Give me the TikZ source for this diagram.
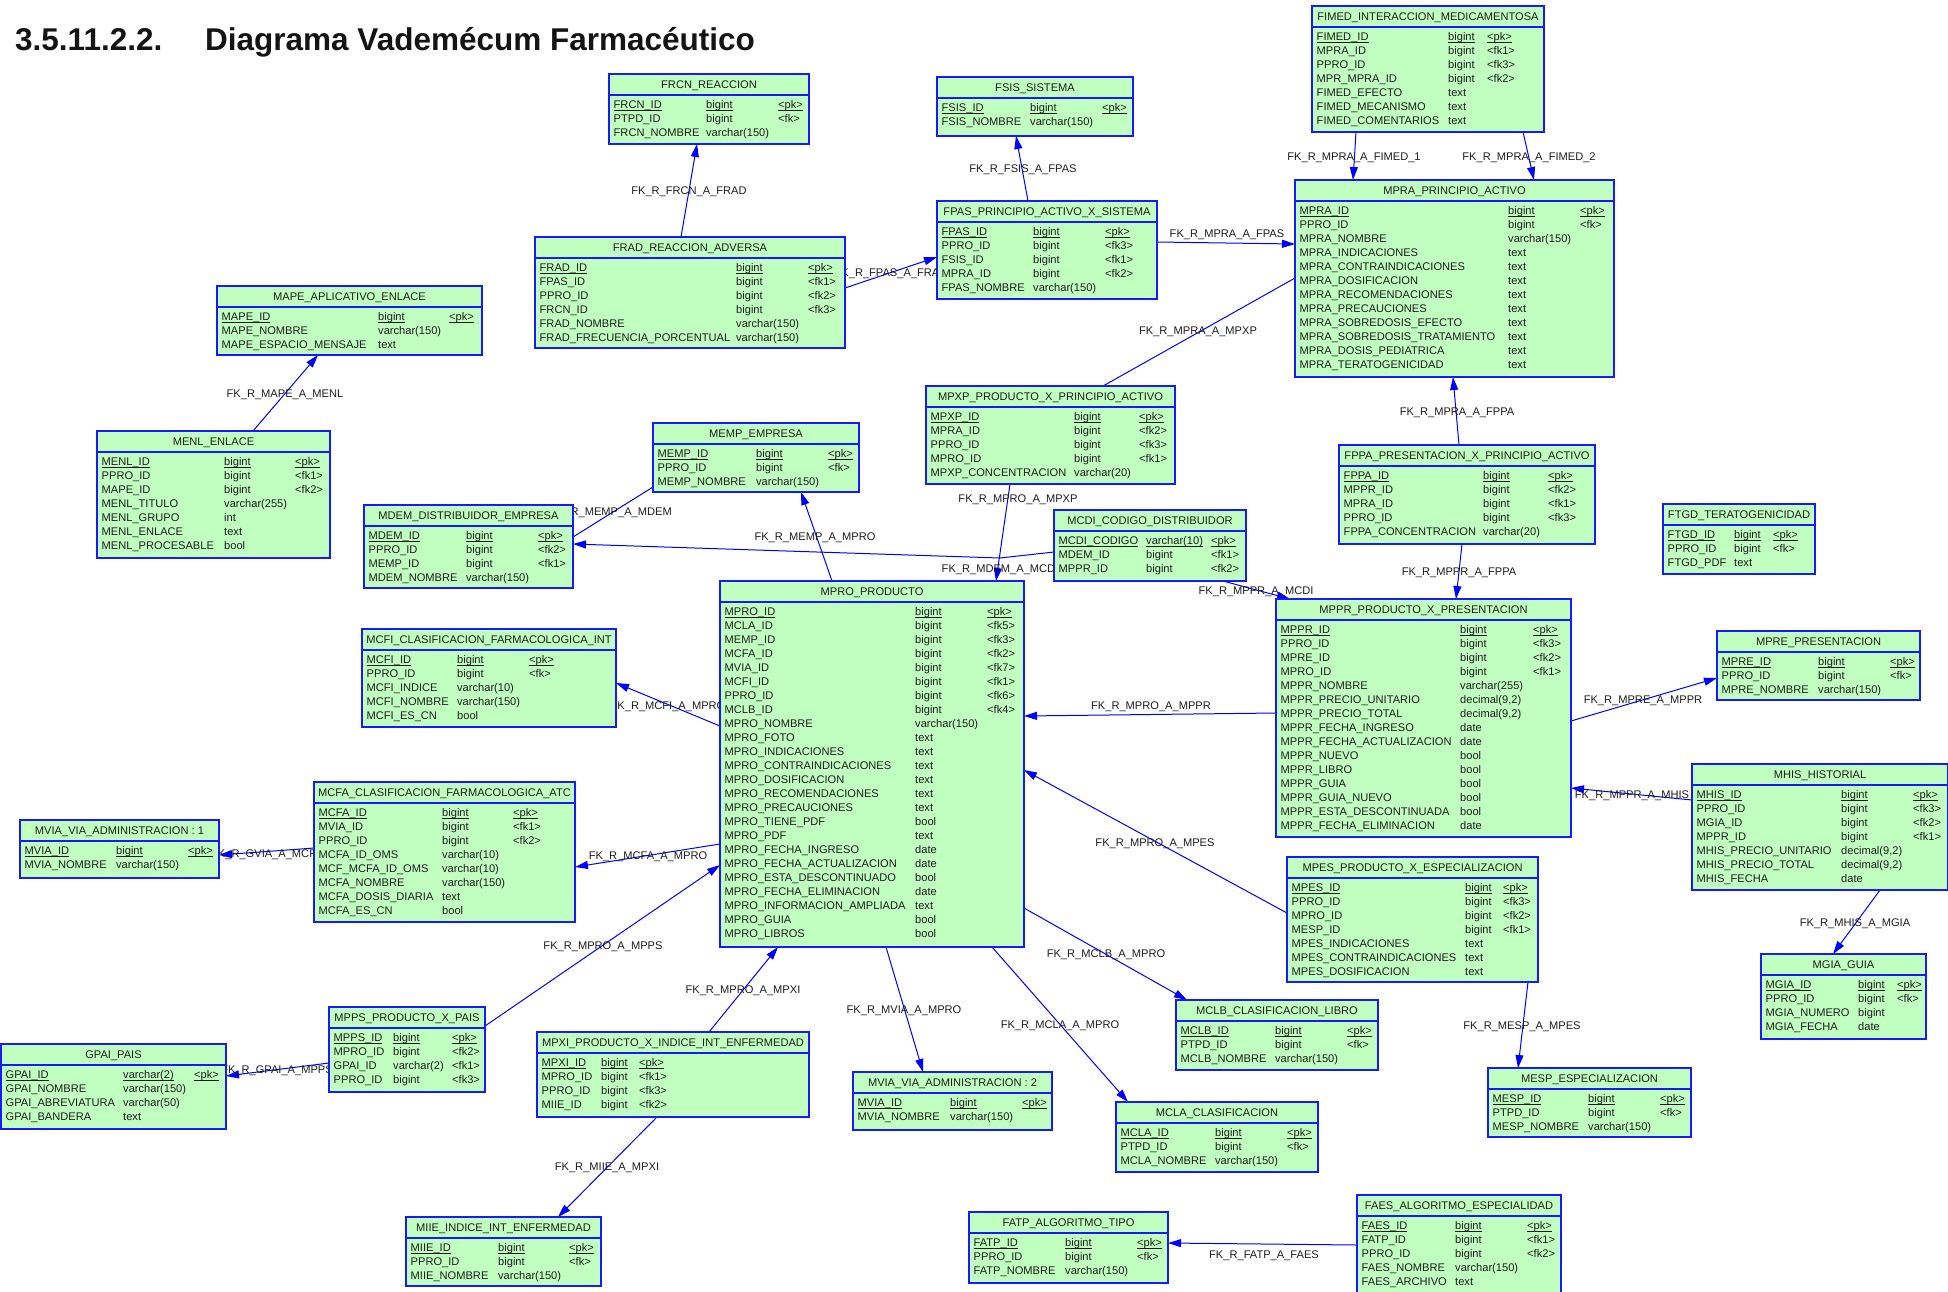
\documentclass[tikz,border=0pt]{standalone}
\usepackage{fontspec}
\setmainfont{Liberation Sans}
\usetikzlibrary{calc,arrows.meta}
\pgfdeclarelayer{background}
\pgfsetlayers{background,main}
\definecolor{entfill}{RGB}{192,255,192}
\definecolor{entdraw}{RGB}{25,25,255}
\definecolor{txt}{RGB}{28,28,28}
\newlength\colA \newlength\colB
\newsavebox\ulbox
\newcommand\ulx[1]{\sbox\ulbox{#1}\rlap{\rule[-1.6pt]{\wd\ulbox}{0.7pt}}\usebox\ulbox}
\newcommand\pk[3]{\makebox[\colA][l]{\ulx{#1}}\makebox[\colB][l]{\ulx{#2}}\ulx{#3}\\}
\newcommand\rw[3]{\makebox[\colA][l]{#1}\makebox[\colB][l]{#2}#3\\}
\tikzset{
 ent/.style={draw=entdraw, fill=entfill, line width=1.5pt, inner sep=0pt, outer sep=0pt},
 entline/.style={draw=entdraw, line width=1.2pt},
 hdr/.style={inner sep=0pt, text=txt, font=\fontsize{11.1}{14}\selectfont},
 body/.style={inner sep=0pt, text=txt, font=\fontsize{11.1}{14}\selectfont},
 fk/.style={draw=blue, line width=1pt, -{Triangle[length=13pt,width=8pt]}},
 fkn/.style={draw=blue, line width=1pt},
 lbl/.style={inner sep=0pt, text=txt, text height=8pt, text depth=0pt, font=\fontsize{11.1}{14}\selectfont},
 ttl/.style={inner sep=0pt, text={rgb,255:red,20;green,20;blue,20}, font=\fontsize{31.5}{36}\selectfont\bfseries},
}
\newcommand\entity[9]{%
  \node[ent, minimum width=#4pt, minimum height=#5pt, anchor=north west] (#1) at (#2,#3) {};
  \draw[entline] ($(#1.north west)+(0,21)$) -- ($(#1.north east)+(0,21)$);
  \node[hdr, anchor=base] (#1-t) at ($(#1.north)+(0,14.5)$) {#6};
  \setlength\colA{\dimexpr#7pt-4.5pt\relax}\setlength\colB{\dimexpr#8pt-#7pt\relax}%
  \node[body, anchor=north west] (#1-b) at ($(#1.north west)+(4.5,24.7)$) {\begin{tabular}{@{}l@{}}#9\end{tabular}};
}
\begin{document}
\catcode`\_=12
\begin{tikzpicture}[x=1pt,y=-1pt]
\useasboundingbox (0,0) rectangle (1948,1291);
\node[ttl, anchor=base west] (t1) at (15,50) {3.5.11.2.2.};
\node[ttl, anchor=base west] (t2) at (205,50) {Diagrama Vademécum Farmacéutico};

\entity{mape}{217}{286}{265}{69}{MAPE_APLICATIVO_ENLACE}{161}{232}{\pk{MAPE_ID}{bigint}{<pk>}\rw{MAPE_NOMBRE}{varchar(150)}{}\rw{MAPE_ESPACIO_MENSAJE}{text}{}}
\entity{menl}{97}{431}{233}{127}{MENL_ENLACE}{127}{198}{\pk{MENL_ID}{bigint}{<pk>}\rw{PPRO_ID}{bigint}{<fk1>}\rw{MAPE_ID}{bigint}{<fk2>}\rw{MENL_TITULO}{varchar(255)}{}\rw{MENL_GRUPO}{int}{}\rw{MENL_ENLACE}{text}{}\rw{MENL_PROCESABLE}{bool}{}}
\entity{frcn}{609}{74}{200}{70}{FRCN_REACCION}{97}{169}{\pk{FRCN_ID}{bigint}{<pk>}\rw{PTPD_ID}{bigint}{<fk>}\rw{FRCN_NOMBRE}{varchar(150)}{}}
\entity{frad}{535}{237}{310}{111}{FRAD_REACCION_ADVERSA}{201}{273}{\pk{FRAD_ID}{bigint}{<pk>}\rw{FPAS_ID}{bigint}{<fk1>}\rw{PPRO_ID}{bigint}{<fk2>}\rw{FRCN_ID}{bigint}{<fk3>}\rw{FRAD_NOMBRE}{varchar(150)}{}\rw{FRAD_FRECUENCIA_PORCENTUAL}{varchar(150)}{}}
\entity{fsis}{937}{77}{196}{59}{FSIS_SISTEMA}{93}{165}{\pk{FSIS_ID}{bigint}{<pk>}\rw{FSIS_NOMBRE}{varchar(150)}{}}
\entity{fpas}{937}{201}{220}{98}{FPAS_PRINCIPIO_ACTIVO_X_SISTEMA}{96}{168}{\pk{FPAS_ID}{bigint}{<pk>}\rw{PPRO_ID}{bigint}{<fk3>}\rw{FSIS_ID}{bigint}{<fk1>}\rw{MPRA_ID}{bigint}{<fk2>}\rw{FPAS_NOMBRE}{varchar(150)}{}}
\entity{fimed}{1312}{6}{232}{126}{FIMED_INTERACCION_MEDICAMENTOSA}{136}{175}{\pk{FIMED_ID}{bigint}{<pk>}\rw{MPRA_ID}{bigint}{<fk1>}\rw{PPRO_ID}{bigint}{<fk3>}\rw{MPR_MPRA_ID}{bigint}{<fk2>}\rw{FIMED_EFECTO}{text}{}\rw{FIMED_MECANISMO}{text}{}\rw{FIMED_COMENTARIOS}{text}{}}
\entity{mpra}{1295}{180}{319}{197}{MPRA_PRINCIPIO_ACTIVO}{213}{285}{\pk{MPRA_ID}{bigint}{<pk>}\rw{PPRO_ID}{bigint}{<fk>}\rw{MPRA_NOMBRE}{varchar(150)}{}\rw{MPRA_INDICACIONES}{text}{}\rw{MPRA_CONTRAINDICACIONES}{text}{}\rw{MPRA_DOSIFICACION}{text}{}\rw{MPRA_RECOMENDACIONES}{text}{}\rw{MPRA_PRECAUCIONES}{text}{}\rw{MPRA_SOBREDOSIS_EFECTO}{text}{}\rw{MPRA_SOBREDOSIS_TRATAMIENTO}{text}{}\rw{MPRA_DOSIS_PEDIATRICA}{text}{}\rw{MPRA_TERATOGENICIDAD}{text}{}}
\entity{mpxp}{926}{386}{249}{98}{MPXP_PRODUCTO_X_PRINCIPIO_ACTIVO}{148}{213}{\pk{MPXP_ID}{bigint}{<pk>}\rw{MPRA_ID}{bigint}{<fk2>}\rw{PPRO_ID}{bigint}{<fk3>}\rw{MPRO_ID}{bigint}{<fk1>}\rw{MPXP_CONCENTRACION}{varchar(20)}{}}
\entity{memp}{653}{423}{206}{69}{MEMP_EMPRESA}{103}{175}{\pk{MEMP_ID}{bigint}{<pk>}\rw{PPRO_ID}{bigint}{<fk>}\rw{MEMP_NOMBRE}{varchar(150)}{}}
\entity{mdem}{364}{505}{209}{83}{MDEM_DISTRIBUIDOR_EMPRESA}{102}{174}{\pk{MDEM_ID}{bigint}{<pk>}\rw{PPRO_ID}{bigint}{<fk2>}\rw{MEMP_ID}{bigint}{<fk1>}\rw{MDEM_NOMBRE}{varchar(150)}{}}
\entity{mcfi}{362}{629}{254}{98}{MCFI_CLASIFICACION_FARMACOLOGICA_INT}{95}{167}{\pk{MCFI_ID}{bigint}{<pk>}\rw{PPRO_ID}{bigint}{<fk>}\rw{MCFI_INDICE}{varchar(10)}{}\rw{MCFI_NOMBRE}{varchar(150)}{}\rw{MCFI_ES_CN}{bool}{}}
\entity{mcfa}{314}{782}{261}{140}{MCFA_CLASIFICACION_FARMACOLOGICA_ATC}{128}{199}{\pk{MCFA_ID}{bigint}{<pk>}\rw{MVIA_ID}{bigint}{<fk1>}\rw{PPRO_ID}{bigint}{<fk2>}\rw{MCFA_ID_OMS}{varchar(10)}{}\rw{MCF_MCFA_ID_OMS}{varchar(10)}{}\rw{MCFA_NOMBRE}{varchar(150)}{}\rw{MCFA_DOSIS_DIARIA}{text}{}\rw{MCFA_ES_CN}{bool}{}}
\entity{mviaa}{20}{820}{199}{58}{MVIA_VIA_ADMINISTRACION : 1}{96}{168}{\pk{MVIA_ID}{bigint}{<pk>}\rw{MVIA_NOMBRE}{varchar(150)}{}}
\entity{mpro}{720}{581}{304}{366}{MPRO_PRODUCTO}{195}{267}{\pk{MPRO_ID}{bigint}{<pk>}\rw{MCLA_ID}{bigint}{<fk5>}\rw{MEMP_ID}{bigint}{<fk3>}\rw{MCFA_ID}{bigint}{<fk2>}\rw{MVIA_ID}{bigint}{<fk7>}\rw{MCFI_ID}{bigint}{<fk1>}\rw{PPRO_ID}{bigint}{<fk6>}\rw{MCLB_ID}{bigint}{<fk4>}\rw{MPRO_NOMBRE}{varchar(150)}{}\rw{MPRO_FOTO}{text}{}\rw{MPRO_INDICACIONES}{text}{}\rw{MPRO_CONTRAINDICACIONES}{text}{}\rw{MPRO_DOSIFICACION}{text}{}\rw{MPRO_RECOMENDACIONES}{text}{}\rw{MPRO_PRECAUCIONES}{text}{}\rw{MPRO_TIENE_PDF}{bool}{}\rw{MPRO_PDF}{text}{}\rw{MPRO_FECHA_INGRESO}{date}{}\rw{MPRO_FECHA_ACTUALIZACION}{date}{}\rw{MPRO_ESTA_DESCONTINUADO}{bool}{}\rw{MPRO_FECHA_ELIMINACION}{date}{}\rw{MPRO_INFORMACION_AMPLIADA}{text}{}\rw{MPRO_GUIA}{bool}{}\rw{MPRO_LIBROS}{bool}{}}
\entity{mcdi}{1054}{510}{192}{71}{MCDI_CODIGO_DISTRIBUIDOR}{92}{157}{\pk{MCDI_CODIGO}{varchar(10)}{<pk>}\rw{MDEM_ID}{bigint}{<fk1>}\rw{MPPR_ID}{bigint}{<fk2>}}
\entity{fppa}{1339}{445}{256}{99}{FPPA_PRESENTACION_X_PRINCIPIO_ACTIVO}{144}{209}{\pk{FPPA_ID}{bigint}{<pk>}\rw{MPPR_ID}{bigint}{<fk2>}\rw{MPRA_ID}{bigint}{<fk1>}\rw{PPRO_ID}{bigint}{<fk3>}\rw{FPPA_CONCENTRACION}{varchar(20)}{}}
\entity{mppr}{1276}{599}{295}{238}{MPPR_PRODUCTO_X_PRESENTACION}{184}{257}{\pk{MPPR_ID}{bigint}{<pk>}\rw{PPRO_ID}{bigint}{<fk3>}\rw{MPRE_ID}{bigint}{<fk2>}\rw{MPRO_ID}{bigint}{<fk1>}\rw{MPPR_NOMBRE}{varchar(255)}{}\rw{MPPR_PRECIO_UNITARIO}{decimal(9,2)}{}\rw{MPPR_PRECIO_TOTAL}{decimal(9,2)}{}\rw{MPPR_FECHA_INGRESO}{date}{}\rw{MPPR_FECHA_ACTUALIZACION}{date}{}\rw{MPPR_NUEVO}{bool}{}\rw{MPPR_LIBRO}{bool}{}\rw{MPPR_GUIA}{bool}{}\rw{MPPR_GUIA_NUEVO}{bool}{}\rw{MPPR_ESTA_DESCONTINUADA}{bool}{}\rw{MPPR_FECHA_ELIMINACION}{date}{}}
\entity{ftgd}{1663}{504}{152}{70}{FTGD_TERATOGENICIDAD}{71}{110}{\pk{FTGD_ID}{bigint}{<pk>}\rw{PPRO_ID}{bigint}{<fk>}\rw{FTGD_PDF}{text}{}}
\entity{mpre}{1717}{631}{203}{69}{MPRE_PRESENTACION}{101}{173}{\pk{MPRE_ID}{bigint}{<pk>}\rw{PPRO_ID}{bigint}{<fk>}\rw{MPRE_NOMBRE}{varchar(150)}{}}
\entity{mhis}{1692}{764}{256}{126}{MHIS_HISTORIAL}{149}{221}{\pk{MHIS_ID}{bigint}{<pk>}\rw{PPRO_ID}{bigint}{<fk3>}\rw{MGIA_ID}{bigint}{<fk2>}\rw{MPPR_ID}{bigint}{<fk1>}\rw{MHIS_PRECIO_UNITARIO}{decimal(9,2)}{}\rw{MHIS_PRECIO_TOTAL}{decimal(9,2)}{}\rw{MHIS_FECHA}{date}{}}
\entity{gpai}{1}{1044}{225}{85}{GPAI_PAIS}{122}{193}{\pk{GPAI_ID}{varchar(2)}{<pk>}\rw{GPAI_NOMBRE}{varchar(150)}{}\rw{GPAI_ABREVIATURA}{varchar(50)}{}\rw{GPAI_BANDERA}{text}{}}
\entity{mpps}{329}{1007}{156}{85}{MPPS_PRODUCTO_X_PAIS}{64}{123}{\pk{MPPS_ID}{bigint}{<pk>}\rw{MPRO_ID}{bigint}{<fk2>}\rw{GPAI_ID}{varchar(2)}{<fk1>}\rw{PPRO_ID}{bigint}{<fk3>}}
\entity{miie}{406}{1217}{195}{69}{MIIE_INDICE_INT_ENFERMEDAD}{92}{163}{\pk{MIIE_ID}{bigint}{<pk>}\rw{PPRO_ID}{bigint}{<fk>}\rw{MIIE_NOMBRE}{varchar(150)}{}}
\entity{mpxi}{537}{1032}{272}{85}{MPXI_PRODUCTO_X_INDICE_INT_ENFERMEDAD}{64}{102}{\pk{MPXI_ID}{bigint}{<pk>}\rw{MPRO_ID}{bigint}{<fk1>}\rw{PPRO_ID}{bigint}{<fk3>}\rw{MIIE_ID}{bigint}{<fk2>}}
\entity{mviab}{853}{1072}{199}{58}{MVIA_VIA_ADMINISTRACION : 2}{97}{169}{\pk{MVIA_ID}{bigint}{<pk>}\rw{MVIA_NOMBRE}{varchar(150)}{}}
\entity{mpes}{1287}{857}{251}{125}{MPES_PRODUCTO_X_ESPECIALIZACION}{178}{216}{\pk{MPES_ID}{bigint}{<pk>}\rw{PPRO_ID}{bigint}{<fk3>}\rw{MPRO_ID}{bigint}{<fk2>}\rw{MESP_ID}{bigint}{<fk1>}\rw{MPES_INDICACIONES}{text}{}\rw{MPES_CONTRAINDICACIONES}{text}{}\rw{MPES_DOSIFICACION}{text}{}}
\entity{mclb}{1176}{1000}{202}{70}{MCLB_CLASIFICACION_LIBRO}{99}{171}{\pk{MCLB_ID}{bigint}{<pk>}\rw{PTPD_ID}{bigint}{<fk>}\rw{MCLB_NOMBRE}{varchar(150)}{}}
\entity{mcla}{1116}{1102}{202}{70}{MCLA_CLASIFICACION}{99}{171}{\pk{MCLA_ID}{bigint}{<pk>}\rw{PTPD_ID}{bigint}{<fk>}\rw{MCLA_NOMBRE}{varchar(150)}{}}
\entity{fatp}{969}{1212}{199}{71}{FATP_ALGORITMO_TIPO}{96}{168}{\pk{FATP_ID}{bigint}{<pk>}\rw{PPRO_ID}{bigint}{<fk>}\rw{FATP_NOMBRE}{varchar(150)}{}}
\entity{faes}{1357}{1195}{204}{99}{FAES_ALGORITMO_ESPECIALIDAD}{98}{170}{\pk{FAES_ID}{bigint}{<pk>}\rw{FATP_ID}{bigint}{<fk1>}\rw{PPRO_ID}{bigint}{<fk2>}\rw{FAES_NOMBRE}{varchar(150)}{}\rw{FAES_ARCHIVO}{text}{}}
\entity{mesp}{1488}{1068}{203}{69}{MESP_ESPECIALIZACION}{100}{172}{\pk{MESP_ID}{bigint}{<pk>}\rw{PTPD_ID}{bigint}{<fk>}\rw{MESP_NOMBRE}{varchar(150)}{}}
\entity{mgia}{1761}{954}{165}{85}{MGIA_GUIA}{97}{136}{\pk{MGIA_ID}{bigint}{<pk>}\rw{PPRO_ID}{bigint}{<fk>}\rw{MGIA_NUMERO}{bigint}{}\rw{MGIA_FECHA}{date}{}}

\begin{pgfonlayer}{background}
\draw[fk] ($(menl.north west)+(156,0)$) -- ($(mape.north west)+(101,69)$);
\node[lbl] (l1) at (285,393) {FK_R_MAPE_A_MENL};
\draw[fk] ($(frad.north west)+(146,0)$) -- ($(frcn.north west)+(88,70)$);
\node[lbl] (l2) at (689,190) {FK_R_FRCN_A_FRAD};
\draw[fk] ($(frad.north west)+(310,51)$) -- ($(fpas.north west)+(0,56)$);
\node[lbl] (l3) at (891,272) {FK_R_FPAS_A_FRAD};
\draw[fk] ($(fpas.north west)+(91,0)$) -- ($(fsis.north west)+(79,59)$);
\node[lbl] (l4) at (1023,168) {FK_R_FSIS_A_FPAS};
\draw[fk] ($(fimed.north west)+(44,126)$) -- ($(mpra.north west)+(58,0)$);
\node[lbl] (l5) at (1354,156) {FK_R_MPRA_A_FIMED_1};
\draw[fk] ($(fimed.north west)+(211,126)$) -- ($(mpra.north west)+(239,0)$);
\node[lbl] (l6) at (1529,156) {FK_R_MPRA_A_FIMED_2};
\draw[fk] ($(fpas.north west)+(220,41)$) -- ($(mpra.north west)+(0,64)$);
\node[lbl] (l7) at (1227,233) {FK_R_MPRA_A_FPAS};
\draw[fkn] ($(mpxp.north west)+(177,0)$) -- ($(mpra.north west)+(0,98)$);
\node[lbl] (l8) at (1198,330) {FK_R_MPRA_A_MPXP};
\draw[fk] ($(fppa.north west)+(120,0)$) -- ($(mpra.north west)+(158,197)$);
\node[lbl] (l9) at (1457,411) {FK_R_MPRA_A_FPPA};
\draw[fk] ($(fppa.north west)+(123,99)$) -- ($(mppr.north west)+(180,0)$);
\node[lbl] (l10) at (1459,571) {FK_R_MPPR_A_FPPA};
\draw[fk] ($(mpxp.north west)+(84,98)$) -- ($(mpro.north west)+(276,0)$);
\node[lbl] (l11) at (1018,498) {FK_R_MPRO_A_MPXP};
\draw[fk] ($(mpro.north west)+(112,0)$) -- ($(memp.north west)+(148,69)$);
\node[lbl] (l12) at (815,536) {FK_R_MEMP_A_MPRO};
\draw[fkn] ($(mdem.north west)+(209,32)$) -- ($(memp.north west)+(0,64)$);
\node[lbl] (l13) at (611,511) {FK_R_MEMP_A_MDEM};
\draw[fk] ($(mcdi.north west)+(0,42)$) -- ($(mcdi.north west)+(-54,48)$) -- ($(mdem.north west)+(209,39)$);
\node[lbl] (l14) at (1000,568) {FK_R_MDEM_A_MCDI};
\draw[fk] ($(mpro.north west)+(0,145)$) -- ($(mcfi.north west)+(254,54)$);
\node[lbl] (l15) at (668,705) {FK_R_MCFI_A_MPRO};
\draw[fk] ($(mpro.north west)+(0,263)$) -- ($(mcfa.north west)+(261,85)$);
\node[lbl] (l16) at (648,855) {FK_R_MCFA_A_MPRO};
\draw[fk] ($(mcfa.north west)+(0,66)$) -- ($(mviaa.north west)+(199,35)$);
\node[lbl] (l17) at (267,853) {FK_R_GVIA_A_MCFA};
\draw[fk] ($(mppr.north west)+(0,114)$) -- ($(mpro.north west)+(304,135)$);
\node[lbl] (l18) at (1151,705) {FK_R_MPRO_A_MPPR};
\draw[fk] ($(mcdi.north west)+(169,71)$) -- ($(mppr.north west)+(14,0)$);
\node[lbl] (l19) at (1256,590) {FK_R_MPPR_A_MCDI};
\draw[fk] ($(mpes.north west)+(0,56)$) -- ($(mpro.north west)+(304,189)$);
\node[lbl] (l20) at (1155,842) {FK_R_MPRO_A_MPES};
\draw[fk] ($(mppr.north west)+(295,122)$) -- ($(mpre.north west)+(0,47)$);
\node[lbl] (l21) at (1643,699) {FK_R_MPRE_A_MPPR};
\draw[fk] ($(mhis.north west)+(0,36)$) -- ($(mppr.north west)+(295,189)$);
\node[lbl] (l22) at (1632,794) {FK_R_MPPR_A_MHIS};
\draw[fk] ($(mhis.north west)+(188,126)$) -- ($(mgia.north west)+(72,0)$);
\node[lbl] (l23) at (1855,922) {FK_R_MHIS_A_MGIA};
\draw[fk] ($(mpes.north west)+(241,125)$) -- ($(mesp.north west)+(30,0)$);
\node[lbl] (l24) at (1522,1025) {FK_R_MESP_A_MPES};
\draw[fk] ($(mpro.north west)+(304,327)$) -- ($(mclb.north west)+(11,0)$);
\node[lbl] (l25) at (1106,953) {FK_R_MCLB_A_MPRO};
\draw[fk] ($(mpro.north west)+(272,366)$) -- ($(mcla.north west)+(12,0)$);
\node[lbl] (l26) at (1060,1024) {FK_R_MCLA_A_MPRO};
\draw[fk] ($(mpro.north west)+(166,366)$) -- ($(mviab.north west)+(70,0)$);
\node[lbl] (l27) at (904,1009) {FK_R_MVIA_A_MPRO};
\draw[fk] ($(mpxi.north west)+(172,0)$) -- ($(mpro.north west)+(58,366)$);
\node[lbl] (l28) at (743,989) {FK_R_MPRO_A_MPXI};
\draw[fk] ($(mpxi.north west)+(120,85)$) -- ($(miie.north west)+(152,0)$);
\node[lbl] (l29) at (607,1166) {FK_R_MIIE_A_MPXI};
\draw[fk] ($(mpps.north west)+(156,19)$) -- ($(mpro.north west)+(0,284)$);
\node[lbl] (l30) at (603,945) {FK_R_MPRO_A_MPPS};
\draw[fk] ($(mpps.north west)+(0,56)$) -- ($(gpai.north west)+(225,32)$);
\node[lbl] (l31) at (277,1069) {FK_R_GPAI_A_MPPS};
\draw[fk] ($(faes.north west)+(0,50)$) -- ($(fatp.north west)+(199,31)$);
\node[lbl] (l32) at (1264,1254) {FK_R_FATP_A_FAES};
\end{pgfonlayer}
\end{tikzpicture}
\end{document}
